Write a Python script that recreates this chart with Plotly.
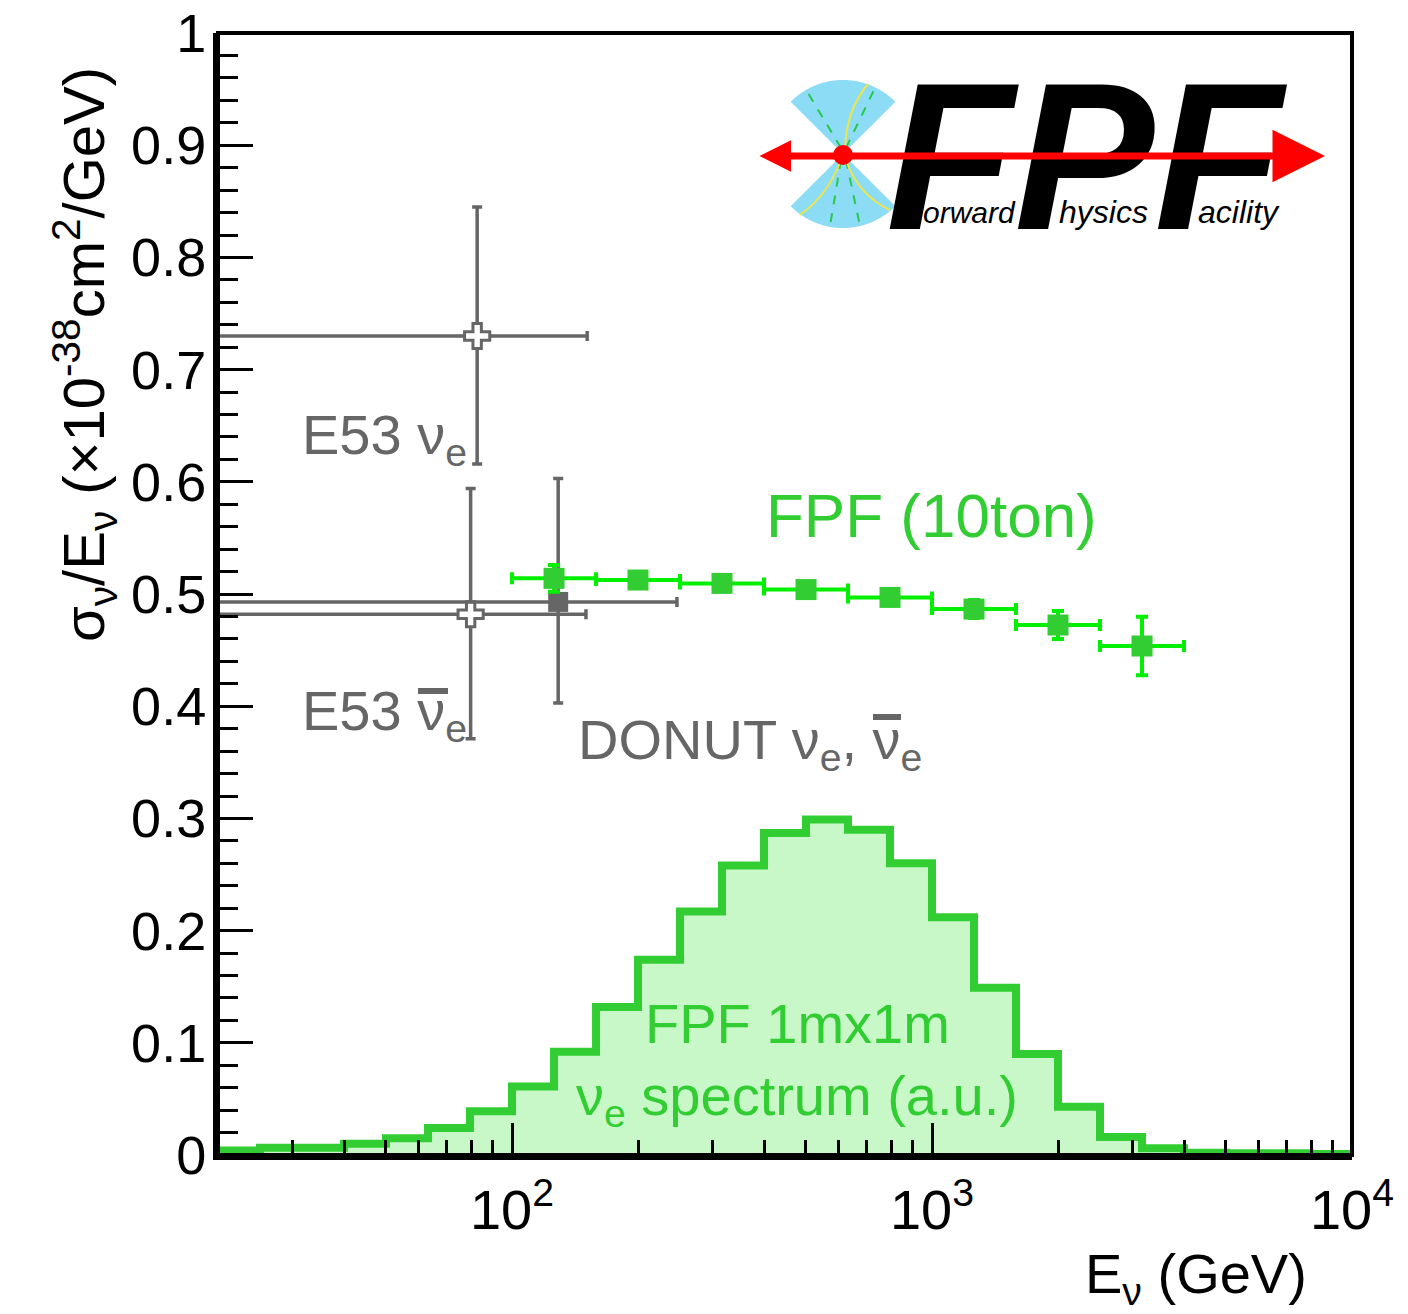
import numpy as np
import plotly.graph_objects as go

# ---------------- data ----------------
# FPF 1mx1m nu_e spectrum (a.u.), histogram bin edges (GeV) and contents
hist_edges = [19.95, 25.12, 31.62, 39.81, 50.12, 63.10, 79.43, 100.0, 125.9, 158.5,
              199.5, 251.2, 316.2, 398.1, 501.2, 631.0, 794.3, 1000.0, 1258.9, 1584.9,
              1995.3, 2511.9, 3162.3, 3981.1, 5011.9, 6309.6, 7943.3, 10000.0]
hist_values = [0.004, 0.0065, 0.0065, 0.010, 0.015, 0.024, 0.039, 0.061, 0.092, 0.132,
               0.174, 0.217, 0.258, 0.287, 0.299, 0.290, 0.260, 0.212, 0.149, 0.090,
               0.043, 0.016, 0.006, 0.002, 0.0015, 0.0015, 0.001]

# FPF (10ton) projected sigma/E
fpf_E = [125.9, 199.5, 316.2, 501.2, 794.3, 1258.9, 1995.3, 3162.3]
fpf_Elo = [100.0, 158.5, 251.2, 398.1, 631.0, 1000.0, 1584.9, 2511.9]
fpf_Ehi = [158.5, 251.2, 398.1, 631.0, 1000.0, 1584.9, 2511.9, 3981.1]
fpf_val = [0.514, 0.5125, 0.5095, 0.504, 0.497, 0.4866, 0.4724, 0.4537]
fpf_err = [0.012, 0.007, 0.006, 0.006, 0.007, 0.008, 0.0125, 0.026]

# E53 nu_e, E53 nubar_e (open crosses), DONUT (filled square)
e53_E = [82.6, 79.7]
e53_Elo = [15.0, 15.0]
e53_Ehi = [151.0, 150.0]
e53_val = [0.730, 0.482]
e53_errup = [0.115, 0.112]
e53_errdn = [0.114, 0.111]

donut_E = [128.8]
donut_Elo = [15.0]
donut_Ehi = [247.0]
donut_val = [0.493]
donut_errup = [0.110]
donut_errdn = [0.090]

xtick_vals = [100, 1000, 10000]
xtick_text = ["10<sup>2</sup>", "10<sup>3</sup>", "10<sup>4</sup>"]
xminor_vals = [20, 30, 40, 50, 60, 70, 80, 90, 200, 300, 400, 500, 600, 700, 800, 900,
               2000, 3000, 4000, 5000, 6000, 7000, 8000, 9000]
ytick_vals = [0, 0.1, 0.2, 0.3, 0.4, 0.5, 0.6, 0.7, 0.8, 0.9, 1.0]
ytick_text = ["0", "0.1", "0.2", "0.3", "0.4", "0.5", "0.6", "0.7", "0.8", "0.9", "1"]

# ---------------- styling ----------------
# page has an 8px body margin; figure sized so the plot area lands at
# x 218..1352, y 33..1155 in the 1408x1314 window
OFF = 8
W, H = 1392, 1298
PL, PR, PT, PB = 218, 1352, 33, 1155
ML, MT = PL - OFF, PT - OFF
MR, MB = OFF + W - PR, OFF + H - PB
PW, PH = PR - PL, PB - PT
FONT = "Liberation Sans, Arial, Helvetica, sans-serif"
GRAY = "rgb(102,102,102)"
GREEN_TXT = "rgb(50,205,50)"
GREEN_MK = "rgb(50,205,50)"
GREEN_ERR = "rgb(0,240,0)"
HIST_LINE = "rgb(50,205,50)"
HIST_FILL = "rgb(200,248,200)"


def PX(px):
    return (px - PL) / PW


def PY(py):
    return (PB - py) / PH


fig = go.Figure()

# histogram as step outline with fill
fig.add_trace(go.Scatter(
    x=hist_edges, y=hist_values + [hist_values[-1]],
    mode="lines", line=dict(shape="hv", color=HIST_LINE, width=8),
    fill="tozeroy", fillcolor=HIST_FILL, hoverinfo="skip", showlegend=False))

# E53 points
fig.add_trace(go.Scatter(
    x=e53_E, y=e53_val, mode="markers",
    marker=dict(symbol="cross", size=21, color="white", line=dict(color=GRAY, width=3)),
    error_x=dict(type="data", symmetric=False,
                 array=[h - e for h, e in zip(e53_Ehi, e53_E)],
                 arrayminus=[e - l for l, e in zip(e53_Elo, e53_E)],
                 color=GRAY, thickness=3.5, width=5),
    error_y=dict(type="data", symmetric=False, array=e53_errup, arrayminus=e53_errdn,
                 color=GRAY, thickness=3.5, width=5),
    showlegend=False))

# DONUT point
fig.add_trace(go.Scatter(
    x=donut_E, y=donut_val, mode="markers",
    marker=dict(symbol="square", size=20, color=GRAY),
    error_x=dict(type="data", symmetric=False,
                 array=[h - e for h, e in zip(donut_Ehi, donut_E)],
                 arrayminus=[e - l for l, e in zip(donut_Elo, donut_E)],
                 color=GRAY, thickness=3.5, width=5),
    error_y=dict(type="data", symmetric=False, array=donut_errup, arrayminus=donut_errdn,
                 color=GRAY, thickness=3.5, width=5),
    showlegend=False))

# FPF (10ton)
fig.add_trace(go.Scatter(
    x=fpf_E, y=fpf_val, mode="markers",
    marker=dict(symbol="square", size=21, color=GREEN_MK),
    error_x=dict(type="data", symmetric=False,
                 array=[h - e for h, e in zip(fpf_Ehi, fpf_E)],
                 arrayminus=[e - l for l, e in zip(fpf_Elo, fpf_E)],
                 color=GREEN_ERR, thickness=4, width=6),
    error_y=dict(type="data", array=fpf_err, color=GREEN_ERR, thickness=4, width=6),
    showlegend=False))

# ---------------- annotations ----------------
ann = []


def text(s, px, py, size=56, color=GRAY, xanchor="left", yanchor="middle", angle=0, font=FONT):
    ann.append(dict(text=s, x=PX(px), y=PY(py), xref="paper", yref="paper",
                    xanchor=xanchor, yanchor=yanchor, showarrow=False, textangle=angle,
                    font=dict(size=size, color=color, family=font)))


text("E53 ν<sub>e</sub>", 300, 439)
text("E53 ν<sub>e</sub>", 300, 714)
text("DONUT ν<sub>e</sub>, ν<sub>e</sub>", 576, 743)
text("FPF (10ton)", 764, 515, size=62, color=GREEN_TXT)
text("FPF 1mx1m", 797, 1023, color=GREEN_TXT, xanchor="center")
text("ν<sub>e</sub> spectrum (a.u.)", 797, 1099, color=GREEN_TXT, xanchor="center")

# axis titles
text("σ<sub>ν</sub>/E<sub>ν</sub> (×10<sup>-38</sup>cm<sup>2</sup>/GeV)", 84, 355,
     size=58, color="black", xanchor="center", angle=-90)
text("E<sub>ν</sub> (GeV)", 1309, 1277, color="black", xanchor="right")

# logo texts
text("<b><i>FPF</i></b>", 884, 157, size=210, color="black")
text("<i>orward</i>", 921, 213, size=30, color="black")
text("<i>hysics</i>", 1057, 212, size=32, color="black")
text("<i>acility</i>", 1196, 212, size=32, color="black")

# red double arrow (on top of letters)
ann.append(dict(text="", x=PX(1325), y=PY(156), ax=758 - 1325, ay=0,
                xref="paper", yref="paper", axref="pixel", ayref="pixel",
                showarrow=True, arrowhead=2, startarrowhead=2, arrowside="end+start",
                arrowsize=1.5, startarrowsize=0.9, arrowwidth=7, arrowcolor="red",
                standoff=0, startstandoff=0))

# ---------------- shapes ----------------
shapes = []
# frame
shapes.append(dict(type="rect", xref="paper", yref="paper", x0=0, x1=1, y0=0, y1=1,
                   line=dict(color="black", width=4), layer="above"))
# overline bars for anti-neutrinos
for x0, x1, y in [(418, 448, 691), (873, 901, 717)]:
    shapes.append(dict(type="line", xref="paper", yref="paper", x0=PX(x0), x1=PX(x1),
                       y0=PY(y), y1=PY(y), line=dict(color=GRAY, width=6), layer="above"))

# logo bowtie
cx, cy, r = 843, 154, 74


def wedge(a0, a1):
    angs = np.linspace(np.radians(a0), np.radians(a1), 20)
    pts = [(cx, cy)] + [(cx + r * np.cos(a), cy - r * np.sin(a)) for a in angs]
    return "M " + " L ".join(f"{PX(x):.5f},{PY(y):.5f}" for x, y in pts) + " Z"


for a0, a1 in [(45, 135), (225, 315)]:
    shapes.append(dict(type="path", xref="paper", yref="paper", path=wedge(a0, a1),
                       fillcolor="rgb(140,220,245)", line=dict(width=0), layer="above"))
# inner lines of logo
for (x0, y0, x1, y1) in [(841, 148, 805, 88), (846, 148, 874, 90),
                         (841, 160, 830, 226), (846, 160, 860, 226)]:
    shapes.append(dict(type="line", xref="paper", yref="paper", x0=PX(x0), y0=PY(y0),
                       x1=PX(x1), y1=PY(y1), line=dict(color="rgb(40,200,80)", width=2, dash="dash"),
                       layer="above"))
for path_pts in [[(845, 150), (846, 110), (868, 84)], [(841, 160), (828, 195), (800, 215)],
                 [(846, 160), (858, 195), (890, 210)]]:
    (a, b), (c, d), (e, f) = path_pts
    shapes.append(dict(type="path", xref="paper", yref="paper",
                       path=f"M {PX(a):.5f},{PY(b):.5f} Q {PX(c):.5f},{PY(d):.5f} {PX(e):.5f},{PY(f):.5f}",
                       line=dict(color="rgb(235,230,80)", width=2), layer="above"))
shapes.append(dict(type="circle", xref="paper", yref="paper", x0=PX(833), x1=PX(853),
                   y0=PY(165), y1=PY(145), fillcolor="red", line=dict(width=0), layer="above"))

fig.update_layout(
    template="none",
    width=W, height=H,
    margin=dict(l=ML, r=MR, t=MT, b=MB, pad=0, autoexpand=False),
    paper_bgcolor="white", plot_bgcolor="white",
    font=dict(family=FONT, color="black"),
    showlegend=False,
    annotations=ann, shapes=shapes,
    xaxis=dict(type="log", range=[np.log10(19.95), 4], showgrid=False, zeroline=False,
               automargin=False,
               showline=True, linecolor="black", linewidth=5,
               tickmode="array", tickvals=xtick_vals, ticktext=xtick_text,
               ticks="inside", ticklen=32, tickwidth=3, tickcolor="black",
               minor=dict(tickmode="array", tickvals=xminor_vals, ticks="inside",
                          ticklen=15, tickwidth=3, tickcolor="black", showgrid=False),
               tickfont=dict(size=56, family=FONT, color="black"),
               ticklabelstandoff=2, ticklabeloverflow="allow", layer="above traces"),
    yaxis=dict(range=[0, 1.0001], showgrid=False, zeroline=False,
               automargin=False,
               showline=True, linecolor="black", linewidth=5,
               tickmode="array", tickvals=ytick_vals, ticktext=ytick_text,
               ticks="inside", ticklen=35, tickwidth=3, tickcolor="black",
               minor=dict(dtick=0.02, tick0=0, ticks="inside", ticklen=20, tickwidth=3,
                          tickcolor="black", showgrid=False),
               tickfont=dict(size=54, family=FONT, color="black"),
               ticklabelstandoff=-4, ticklabeloverflow="allow", layer="above traces"),
)

fig.write_html("out.html")
